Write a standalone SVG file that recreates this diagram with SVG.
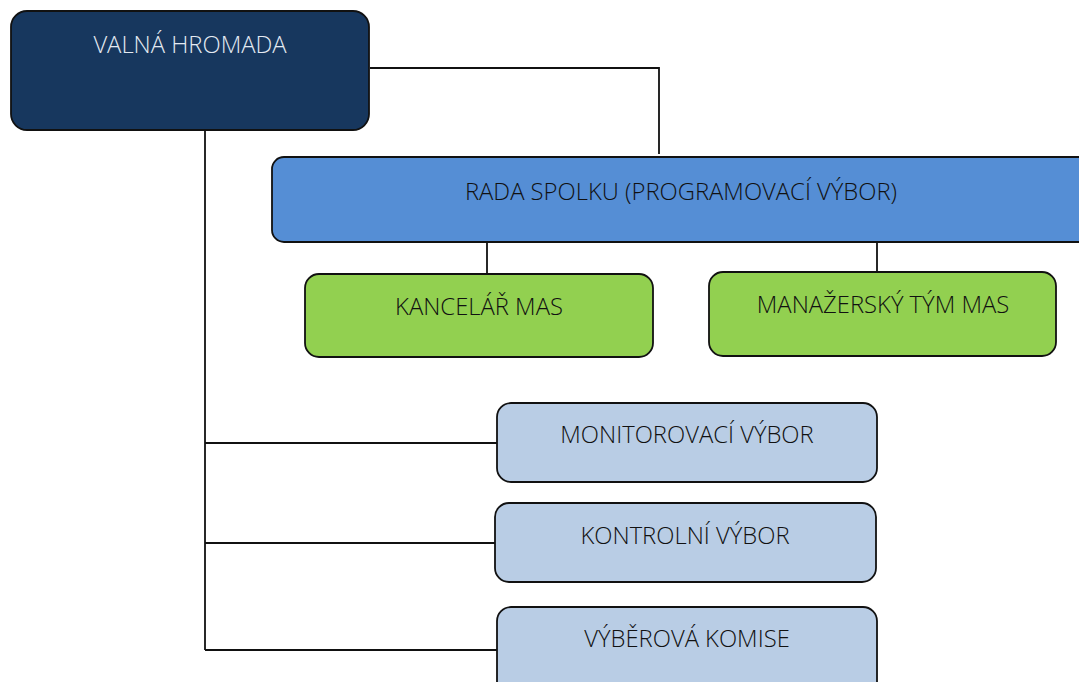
<svg xmlns="http://www.w3.org/2000/svg" width="1079" height="682" viewBox="0 0 1079 682">
<style>
.box{stroke:#111;stroke-width:1.8}
.t{font-family:"Open Sans","Liberation Sans",sans-serif;font-size:23.8px;font-weight:300;text-anchor:middle;fill:#111}
.w{fill:#e4eaf2}
.c{fill:none;stroke:#111;stroke-width:1.8}
</style>
<rect width="1079" height="682" fill="#fff"/>
<g id="connectors">
<polyline class="c" points="370,68 659,68 659,154"/>
<polyline class="c" points="205,130 205,650"/>
<line class="c" x1="205" y1="443" x2="497" y2="443"/>
<line class="c" x1="205" y1="543" x2="495" y2="543"/>
<line class="c" x1="205" y1="650" x2="497" y2="650"/>
<line class="c" x1="487" y1="242" x2="487" y2="274"/>
<line class="c" x1="877" y1="239" x2="877" y2="271"/>
</g>
<g id="valna-hromada">
<rect class="box" x="11" y="11" width="358" height="119" rx="16" fill="#17375e"/>
<text class="t w" x="190" y="53">VALNÁ HROMADA</text>
</g>
<g id="rada-spolku">
<rect class="box" x="272" y="157" width="830" height="85" rx="12" fill="#558ed5"/>
<text class="t" x="681" y="200">RADA SPOLKU (PROGRAMOVACÍ VÝBOR)</text>
</g>
<g id="kancelar">
<rect class="box" x="305" y="274" width="348" height="83" rx="14" fill="#92d050"/>
<text class="t" x="479" y="315">KANCELÁŘ MAS</text>
</g>
<g id="manazersky-tym">
<rect class="box" x="709" y="272" width="347" height="84" rx="14" fill="#92d050"/>
<text class="t" x="883" y="313">MANAŽERSKÝ TÝM MAS</text>
</g>
<g id="monitorovaci-vybor">
<rect class="box" x="497" y="403" width="380" height="79" rx="14" fill="#b9cde5"/>
<text class="t" x="687" y="443">MONITOROVACÍ VÝBOR</text>
</g>
<g id="kontrolni-vybor">
<rect class="box" x="495" y="503" width="381" height="79" rx="14" fill="#b9cde5"/>
<text class="t" x="685" y="544">KONTROLNÍ VÝBOR</text>
</g>
<g id="vyberova-komise">
<rect class="box" x="497" y="607" width="380" height="90" rx="14" fill="#b9cde5"/>
<text class="t" x="687" y="647">VÝBĚROVÁ KOMISE</text>
</g>
</svg>
